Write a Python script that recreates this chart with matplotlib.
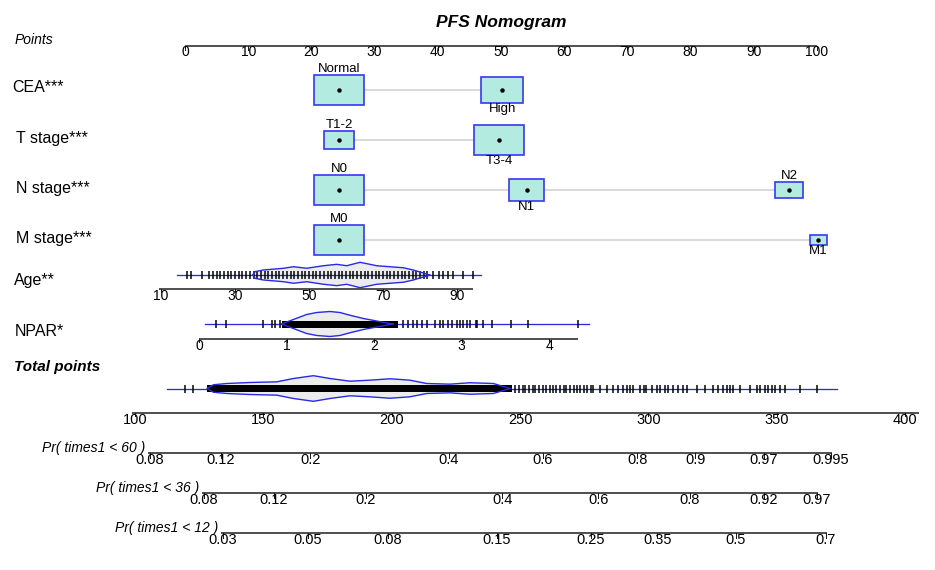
import matplotlib
matplotlib.use("Agg")
import matplotlib.pyplot as plt
from matplotlib.patches import Rectangle, Polygon
import numpy as np

plt.rcParams['font.family'] = ['Liberation Sans', 'DejaVu Sans']

# ---------------- data ----------------
title = "PFS Nomogram"
points_ticks = [0, 10, 20, 30, 40, 50, 60, 70, 80, 90, 100]

var_names = ["CEA***", "T stage***", "N stage***", "M stage***"]
cea_levels = ["Normal", "High"]
cea_points = [24.4, 50.2]
cea_freq = [0.59, 0.41]
tstage_levels = ["T1-2", "T3-4"]
tstage_points = [24.4, 49.7]
tstage_freq = [0.26, 0.74]
nstage_levels = ["N0", "N1", "N2"]
nstage_points = [24.4, 54.1, 95.6]
nstage_freq = [0.55, 0.27, 0.17]
mstage_levels = ["M0", "M1"]
mstage_points = [24.4, 100.2]
mstage_freq = [0.90, 0.10]

# Age (continuous)
age_label = "Age**"
age_ticks = [10, 30, 50, 70, 90]
age_axis_range = [9.5, 94.3]
age_line_range = [14.3, 96.6]
age_rug = [17, 18, 21, 23, 24, 25, 26, 27, 28, 29, 30, 31, 32, 33, 34, 35, 36, 37, 38,
           39, 40, 41, 42, 43, 44, 45, 46, 47, 48, 49, 50, 51, 52, 53, 54, 55, 56, 57,
           58, 59, 60, 61, 62, 63, 64, 65, 66, 67, 68, 69, 70, 71, 72, 73, 74, 75, 76,
           77, 78, 79, 80, 81, 82, 83.5, 85, 86.2, 87.6, 88.9, 91.7, 94.3]
age_dens_x = [34.8, 35.4, 37.6, 43.1, 45.8, 49.4, 53.9, 57.5, 60.2, 63.8, 68.3, 71.9, 75.5, 78.2, 81.8, 82.6]
age_dens_h = [0.0, 0.26, 0.39, 0.53, 0.65, 0.53, 0.73, 0.84, 0.73, 1.0, 0.73, 0.65, 0.57, 0.39, 0.08, 0.0]

# NPAR (continuous)
npar_label = "NPAR*"
npar_ticks = [0, 1, 2, 3, 4]
npar_axis_range = [0, 4.33]
npar_line_range = [0.07, 4.46]
npar_rug = [0.19, 0.31, 0.73, 0.83, 0.87, 0.93, 2.335, 2.39, 2.45, 2.49, 2.545, 2.60, 2.70,
            2.75, 2.79, 2.85, 2.89, 2.945, 2.98, 3.02, 3.06, 3.10, 3.16, 3.18, 3.25, 3.345,
            3.57, 3.76, 4.33]
npar_dense = [0.95, 2.27]
npar_dens_x = [0.945, 1.078, 1.23, 1.345, 1.497, 1.61, 1.726, 1.878, 2.03, 2.18, 2.22]
npar_dens_h = [0.0, 0.36, 0.76, 0.92, 1.0, 0.92, 0.70, 0.44, 0.24, 0.04, 0.0]

# Total points
tp_label = "Total points"
tp_ticks = [100, 150, 200, 250, 300, 350, 400]
tp_axis_range = [99, 405.5]
tp_line_range = [112.5, 373.5]
tp_dense = [128.2, 247.0]
tp_rug = [119.5, 122.7, 248, 249.5, 251, 252, 253.5, 255, 256, 257.5, 259, 260, 261.5, 263,
          264, 265.5, 267, 268, 269.5, 271, 272, 273.5, 275, 276, 277.5, 278.5,
          281.1, 283.7, 286.3, 288.3, 290.2, 291.5, 292.8, 294.1, 296.7, 298.4, 299.1, 301.3,
          303.2, 304.5, 306.5, 307.8, 309.7, 311.7, 313.6, 314.9, 318.8, 322.0, 325.3, 327.2,
          329.2, 330.5, 331.8, 333.1, 335.7, 339.6, 342.2, 343.5, 345.4, 346.7, 348.0, 349.3,
          351.3, 353.2, 359.1, 365.8]
tp_dens_x = [128.2, 130.5, 135.7, 144.8, 155.2, 161.7, 169.5, 176.0, 183.8, 191.5, 199.3,
             207.1, 213.6, 222.7, 230.5, 239.6, 246.1]
tp_dens_h = [0.0, 0.29, 0.39, 0.47, 0.52, 0.78, 1.0, 0.78, 0.57, 0.65, 0.76, 0.65, 0.39,
             0.34, 0.45, 0.39, 0.0]

# Probability scales: tick labels and the total points where they sit
pr_labels = ["Pr( times1 < 60 )", "Pr( times1 < 36 )", "Pr( times1 < 12 )"]
pr60_ticks = ["0.08", "0.12", "0.2", "0.4", "0.6", "0.8", "0.9", "0.97", "0.995"]
pr60_tp = [105.8, 133.5, 168.2, 222.3, 258.9, 295.6, 318.2, 345.0, 371.1]
pr36_ticks = ["0.08", "0.12", "0.2", "0.4", "0.6", "0.8", "0.92", "0.97"]
pr36_tp = [126.9, 154.1, 190.0, 243.0, 280.4, 316.2, 345.0, 365.7]
pr12_ticks = ["0.03", "0.05", "0.08", "0.15", "0.25", "0.35", "0.5", "0.7"]
pr12_tp = [134.3, 167.4, 198.6, 241.0, 277.6, 303.4, 334.1, 369.1]

# ---------------- layout ----------------
W, H = 935, 570
fig = plt.figure(figsize=(W / 100, H / 100), dpi=100)
ax = fig.add_axes([0, 0, 1, 1])
ax.set_xlim(0, W)
ax.set_ylim(H, 0)
ax.axis('off')

PT = 0.72  # points per pixel
BOX_FACE = "#b3ebe1"
BOX_EDGE = "#3c3cf0"
BLUE = "#2a2ae6"
AXC = "#1a1a1a"


def xp(p):      # points scale
    return 185 + p * 6.32


def xt(t):      # total points scale
    return 135 + (t - 100) * 2.567


def xa(a):      # age scale
    return 161 + (a - 10) * 3.7


def xn(v):      # NPAR scale
    return 199 + v * 87.5


def draw_axis(xs, labels, y, x0, x1, fs=10, tick=4, lab_dy=6.5):
    ax.plot([x0, x1], [y, y], color=AXC, lw=1.5 * PT, solid_capstyle='butt')
    for x, lab in zip(xs, labels):
        ax.plot([x, x], [y, y + tick], color=AXC, lw=1.0 * PT)
        ax.text(x, y + lab_dy, lab, ha='center', va='center', fontsize=fs, color='black')


# Title
ax.text(501, 22, title, ha='center', va='center', fontsize=12.5,
        fontweight='bold', fontstyle='italic')

# Points axis
ax.text(15, 40, "Points", ha='left', va='center', fontsize=10, fontstyle='italic')
draw_axis([xp(v) for v in points_ticks], [str(v) for v in points_ticks], 46,
          xp(points_ticks[0]), xp(points_ticks[-1]), fs=10, tick=4, lab_dy=6.5)

# Categorical rows
cat_rows = [
    (cea_levels, cea_points, cea_freq, 90, 12),
    (tstage_levels, tstage_points, tstage_freq, 140, 16),
    (nstage_levels, nstage_points, nstage_freq, 190, 16),
    (mstage_levels, mstage_points, mstage_freq, 240, 16),
]
for name, (levels, pts, freq, y, lx) in zip(var_names, cat_rows):
    ax.text(lx, y - 2, name, ha='left', va='center', fontsize=11.5)
    xs = [xp(p) for p in pts]
    ax.plot([min(xs), max(xs)], [y, y], color="#d6d6d6", lw=1.8 * PT, zorder=1)
    fmax = max(freq)
    for i, (lev, x, f) in enumerate(zip(levels, xs, freq)):
        s = np.sqrt(f / fmax)
        bw, bh = 50 * s, 30 * s
        ax.add_patch(Rectangle((x - bw / 2, y - bh / 2), bw, bh, facecolor=BOX_FACE,
                               edgecolor=BOX_EDGE, lw=1.7 * PT, zorder=2))
        ax.plot(x, y, 'o', ms=2.2, color='black', zorder=3)
        if i % 2 == 0:
            ax.text(x, y - bh / 2 - 6, lev, ha='center', va='center', fontsize=9.5)
        else:
            ax.text(x, y + bh / 2 + 6, lev, ha='center', va='center', fontsize=9.5)


def violin_row(y, scale, line_rng, dens_x, dens_h, rug, dense=None, hmax=12.5, rug_h=4):
    xs = np.array([scale(v) for v in dens_x])
    hs = np.array(dens_h) * hmax
    poly = np.concatenate([np.column_stack([xs, y - hs]),
                           np.column_stack([xs[::-1], y + hs[::-1]])])
    ax.add_patch(Polygon(poly, closed=True, facecolor="#ececec", edgecolor='none', zorder=1))
    ax.plot([scale(line_rng[0]), scale(line_rng[1])], [y, y], color=BLUE, lw=1.3 * PT, zorder=2)
    if dense is not None:
        x0, x1 = scale(dense[0]), scale(dense[1])
        ax.add_patch(Rectangle((x0, y - rug_h + 0.5), x1 - x0, 2 * rug_h - 1, facecolor='black',
                               edgecolor='none', zorder=3))
    ax.vlines([scale(v) for v in rug], y - rug_h, y + rug_h, color='black', lw=1.5 * PT, zorder=3)
    ax.plot(xs, y - hs, color=BLUE, lw=1.4 * PT, zorder=4)
    ax.plot(xs, y + hs, color=BLUE, lw=1.4 * PT, zorder=4)


# Age
ax.text(14, 281, age_label, ha='left', va='center', fontsize=11.5)
violin_row(275, xa, age_line_range, age_dens_x, age_dens_h, age_rug, hmax=12.7)
draw_axis([xa(v) for v in age_ticks], [str(v) for v in age_ticks], 288.5,
          xa(age_axis_range[0]), xa(age_axis_range[1]), fs=10, tick=3, lab_dy=8)

# NPAR
ax.text(15, 331, npar_label, ha='left', va='center', fontsize=11.5)
violin_row(324, xn, npar_line_range, npar_dens_x, npar_dens_h, npar_rug, dense=npar_dense, hmax=12.5)
draw_axis([xn(v) for v in npar_ticks], [str(v) for v in npar_ticks], 338.5,
          xn(npar_axis_range[0]), xn(npar_axis_range[1]), fs=10, tick=3, lab_dy=7.5)

# Total points
ax.text(14, 367, tp_label, ha='left', va='center', fontsize=11,
        fontweight='bold', fontstyle='italic')
violin_row(388.5, xt, tp_line_range, tp_dens_x, tp_dens_h, tp_rug, dense=tp_dense, hmax=12.8)
draw_axis([xt(v) for v in tp_ticks], [str(v) for v in tp_ticks], 413,
          xt(tp_axis_range[0]), xt(tp_axis_range[1]), fs=10.5, tick=3, lab_dy=7.5)

# Probability rows
for lab, ticks, tps, y in zip(pr_labels, [pr60_ticks, pr36_ticks, pr12_ticks],
                              [pr60_tp, pr36_tp, pr12_tp], [453, 493, 533]):
    xs = [xt(t) for t in tps]
    ax.text(xs[0] - 5, y - 5, lab, ha='right', va='center', fontsize=10, fontstyle='italic')
    draw_axis(xs, ticks, y, xs[0] - 2, xs[-1] + 1, fs=10.5, tick=5, lab_dy=7.5)

fig.savefig("out.png", dpi=100, facecolor='white')
